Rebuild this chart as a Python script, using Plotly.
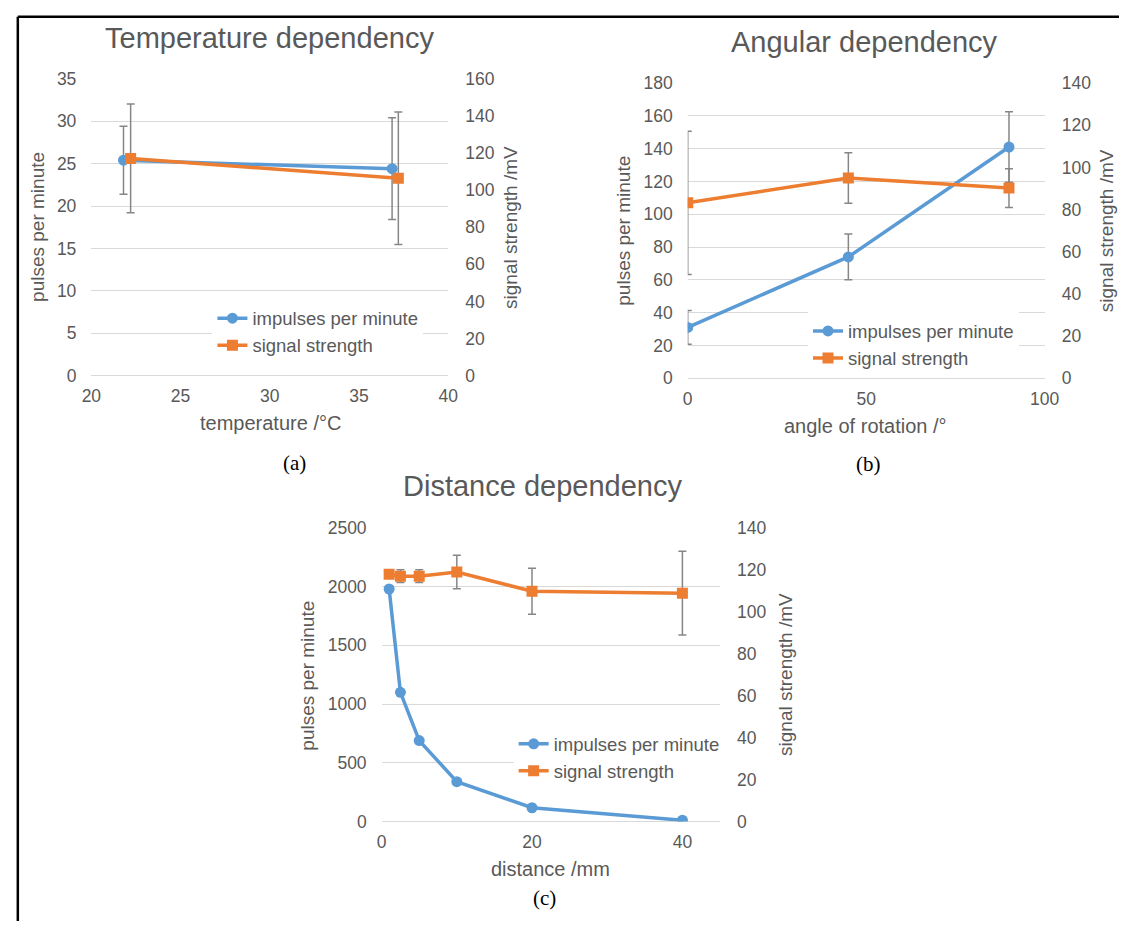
import plotly.graph_objects as go

W, H = 1134, 931

# ---------------- data ----------------
temp_ppm_x = [21.8, 36.85]
temp_ppm = [25.4, 24.4]
temp_ppm_err = [4.0, 6.0]
temp_sig_x = [22.2, 37.2]
temp_sig = [117.1, 106.4]
temp_sig_err = [29.3, 35.7]

ang_x = [0, 45, 90]
ang_ppm = [31, 74, 141]
ang_ppm_err = [10.3, 14, 21.5]
ang_sig = [83.2, 95, 90.2]
ang_sig_err = [34, 12, 9.2]

dist_x = [1, 2.5, 5, 10, 20, 40]
dist_ppm = [1980, 1100, 689, 339, 117, 11]
dist_sig = [117.9, 117, 117, 119, 109.8, 108.9]
dist_sig_err = [0, 3, 3, 8, 11, 20]

BLUE = "#5B9BD5"
ORANGE = "#ED7D31"
TXT = "#595959"
GRID = "#D9D9D9"
ERR = "#868686"
FONT = "Liberation Sans, Arial, sans-serif"

def px(x):
    return x / W

def py(y):
    return 1 - y / H

fig = go.Figure()

def add_pair(xa, ya_l, ya_r, xb, yb, xo, yo, eb, eo, leg):
    fig.add_trace(go.Scatter(
        x=xb, y=yb, name="impulses per minute", mode="lines+markers",
        line=dict(color=BLUE, width=3.5), marker=dict(symbol="circle", size=11, color=BLUE),
        error_y=dict(type="data", array=eb, visible=eb is not None, color=ERR, thickness=1.5, width=4),
        xaxis=xa, yaxis=ya_l, legend=leg))
    fig.add_trace(go.Scatter(
        x=xo, y=yo, name="signal strength", mode="lines+markers",
        line=dict(color=ORANGE, width=3.5), marker=dict(symbol="square", size=11, color=ORANGE),
        error_y=dict(type="data", array=eo, visible=True, color=ERR, thickness=1.5, width=4),
        xaxis=xa, yaxis=ya_r, legend=leg))

add_pair("x", "y", "y2", temp_ppm_x, temp_ppm, temp_sig_x, temp_sig, temp_ppm_err, temp_sig_err, "legend")
add_pair("x2", "y3", "y4", ang_x, ang_ppm, ang_x, ang_sig, ang_ppm_err, ang_sig_err, "legend2")
add_pair("x3", "y5", "y6", dist_x, dist_ppm, dist_x, dist_sig, None, dist_sig_err, "legend3")

tickfont = dict(family=FONT, size=17.5, color=TXT)

def xax(domain, anchor, rng, dtick):
    return dict(domain=domain, anchor=anchor, range=rng, dtick=dtick, showgrid=False,
                zeroline=False, showline=False, ticks="", tickfont=tickfont,
                ticklabelstandoff=8, fixedrange=True)

def yl(domain, anchor, rng, dtick):
    return dict(domain=domain, anchor=anchor, range=rng, dtick=dtick, showgrid=True,
                gridcolor=GRID, gridwidth=1, zeroline=True, zerolinecolor=GRID, zerolinewidth=1,
                showline=False, ticks="", tickfont=tickfont, ticklabelstandoff=14)

def yr(over, anchor, rng, dtick):
    return dict(overlaying=over, side="right", anchor=anchor, range=rng, dtick=dtick,
                showgrid=False, zeroline=False, showline=False, ticks="", tickfont=tickfont,
                ticklabelstandoff=16)

dom_a_x = [px(83.2), px(448.2)]
dom_a_y = [py(373.7), py(70.3)]
dom_b_x = [px(693), px(1058)]
dom_b_y = [py(376.3), py(74.7)]
dom_c_x = [px(380), px(726)]
dom_c_y = [py(829.3), py(529.3)]

fig.update_layout(
    xaxis=xax(dom_a_x, "y", [20, 40], 5),
    yaxis=yl(dom_a_y, "x", [0, 35], 5),
    yaxis2=yr("y", "x", [0, 160], 20),
    xaxis2=xax(dom_b_x, "y3", [0, 100], 50),
    yaxis3=yl(dom_b_y, "x2", [0, 180], 20),
    yaxis4=yr("y3", "x2", [0, 140], 20),
    xaxis3=xax(dom_c_x, "y5", [0, 45], 20),
    yaxis5=yl(dom_c_y, "x3", [0, 2500], 500),
    yaxis6=yr("y5", "x3", [0, 140], 20),
)

legfont = dict(family=FONT, size=18.5, color=TXT)
def leg(x, y):
    return dict(x=px(x), y=py(y), xanchor="left", yanchor="top", bgcolor="white",
                font=legfont, borderwidth=0, tracegroupgap=0, itemwidth=30)

fig.update_layout(
    legend=leg(207, 296),
    legend2=leg(816, 309),
    legend3=leg(515, 731),
)

ann = []
def text(x, y, s, size, angle=0, family=FONT, color=TXT):
    ann.append(dict(x=px(x), y=py(y), xref="paper", yref="paper", text=s, showarrow=False,
                    textangle=angle, xanchor="center", yanchor="middle",
                    font=dict(family=family, size=size, color=color)))

# chart titles
text(265.7, 28.3, "Temperature dependency", 29)
text(873.4, 32.3, "Angular dependency", 29)
text(544, 486.7, "Distance dependency", 29)
# axis titles
text(28.6, 221.7, "pulses per minute", 19, -90)
text(512.5, 222.5, "signal strength /mV", 19, -90)
text(266, 421.7, "temperature /°C", 20)
text(627.6, 225.8, "pulses per minute", 19, -90)
text(1122, 225.8, "signal strength /mV", 19, -90)
text(875, 425, "angle of rotation /°", 20)
text(304, 680, "pulses per minute", 19, -90)
text(793, 679, "signal strength /mV", 19, -90)
text(553, 877.7, "distance /mm", 20)
# panel labels
SERIF = "Liberation Serif, Times New Roman, serif"
text(291, 463, "(a)", 21, family=SERIF, color="black")
text(878, 464, "(b)", 21, family=SERIF, color="black")
text(547, 908, "(c)", 21, family=SERIF, color="black")

shapes = [
    dict(type="line", xref="paper", yref="paper", x0=px(8), x1=1, y0=py(7), y1=py(7),
         line=dict(color="black", width=2.5)),
    dict(type="line", xref="paper", yref="paper", x0=px(8), x1=px(8), y0=py(7), y1=0,
         line=dict(color="black", width=2.5)),
]

fig.update_layout(
    width=W, height=H, autosize=False,
    margin=dict(l=0, r=0, t=0, b=0),
    paper_bgcolor="white", plot_bgcolor="white",
    annotations=ann, shapes=shapes,
    font=dict(family=FONT, color=TXT),
)

fig.write_html(
    "out.html",
    config={"displayModeBar": False},
    post_script="document.body.style.margin='0';document.body.style.overflow='hidden';",
)
